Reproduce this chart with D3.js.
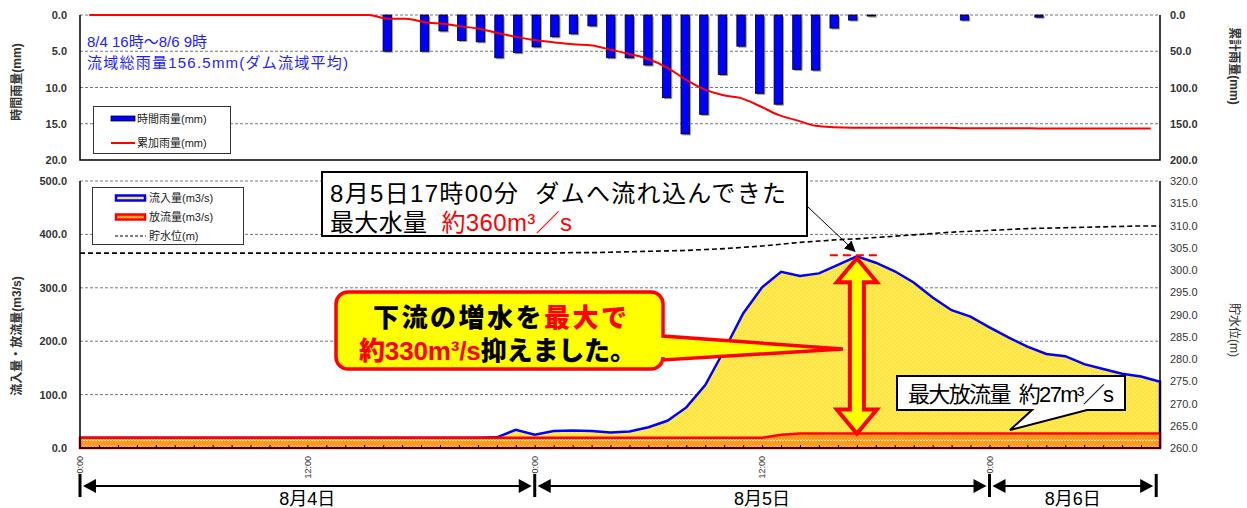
<!DOCTYPE html>
<html>
<head>
<meta charset="utf-8">
<script src="https://cdn.jsdelivr.net/npm/d3@7"></script>
<style>
    body { margin: 0; background: #fff; }
    svg { display: block; font-family: "Liberation Sans", "Noto Sans CJK JP", sans-serif; }
    text { white-space: pre; }
</style>
</head>
<body>
<script>

// hourly steps, 8/4 0:00 (index 0) ... 8/6 9:00 (index 57)
var hourIndex = d3.range(58)

var rainHourly = [
    0, 0, 0, 0, 0, 0, 0, 0, 0, 0, 0, 0, 0, 0, 0, 0,
    5.0, 0, 5.0, 2.2, 3.5, 3.7, 5.9, 5.2,
    4.4, 3.0, 2.6, 1.5, 5.9, 5.9, 6.9, 11.4, 16.4, 13.7, 8.2, 4.3, 10.8, 12.3, 7.5, 7.6, 1.8, 0.7, 0.15, 0, 0, 0, 0, 0.7,
    0, 0, 0, 0.3, 0, 0, 0, 0, 0, 0
]

var rainCumulative = [
    0, 0, 0, 0, 0, 0, 0, 0, 0, 0, 0, 0, 0, 0, 0, 0,
    5.0, 5.0, 10.0, 12.2, 15.7, 19.4, 25.3, 30.5,
    34.9, 37.9, 40.5, 42.0, 47.9, 53.8, 60.7, 72.1, 88.5, 102.2, 110.4, 114.7, 125.5, 137.8, 145.3, 152.9, 154.7, 155.4, 155.5, 155.5, 155.5, 155.5, 155.5, 156.2,
    156.2, 156.2, 156.2, 156.5, 156.5, 156.5, 156.5, 156.5, 156.5, 156.5
]

var inflow = [
    19, 19, 19, 19, 19, 19, 19, 19, 19, 19, 19, 19, 19, 19, 19, 19, 19, 19, 19, 19, 19, 19,
    20, 34,
    25, 32, 33, 32, 29, 31, 39, 51, 76, 118, 183, 252, 301, 330, 322, 327, 343, 359, 347, 331, 310, 282, 258, 246,
    226, 207, 190, 176, 172, 157, 148, 139, 134, 124
]

var outflow = [
    19, 19, 19, 19, 19, 19, 19, 19, 19, 19, 19, 19, 19, 19, 19, 19, 19, 19, 19, 19, 19, 19, 19, 19,
    19, 19, 19, 19, 19, 19, 19, 19, 19, 19, 19, 19, 19, 25, 27, 27, 27, 27, 27, 27, 27, 27, 27, 27,
    27, 27, 27, 27, 27, 27, 27, 27, 27, 27
]

var waterLevel = [
    303.8, 303.8, 303.8, 303.8, 303.8, 303.8, 303.8, 303.8, 303.8, 303.8, 303.8, 303.8,
    303.8, 303.8, 303.8, 303.8, 303.8, 303.8, 303.8, 303.8, 303.8, 303.8, 303.8, 303.8,
    303.8, 303.8, 303.9, 303.9, 304.0, 304.1, 304.2, 304.3, 304.4, 304.6, 304.8, 305.1, 305.4, 305.8, 306.2, 306.5, 306.8, 307.0, 307.3, 307.6, 307.9, 308.2, 308.5, 308.7,
    308.9, 309.1, 309.3, 309.4, 309.5, 309.6, 309.7, 309.8, 309.9, 309.9
]

var rainTicks = [0, 5, 10, 15, 20]
var cumTicks = [0, 50, 100, 150, 200]
var flowTicks = [0, 100, 200, 300, 400, 500]
var levelTicks = [260, 265, 270, 275, 280, 285, 290, 295, 300, 305, 310, 315, 320]
var timeTicks = [0, 12, 24, 36, 48]
var timeLabels = ['0:00', '12:00', '0:00', '12:00', '0:00']
var days = ['8月4日', '8月5日', '8月6日']
var dayBounds = [0, 24, 48, 56.8]

var chartAreaWidth = 1247
var chartAreaHeight = 508
var plotLeft = 80
var plotRight = 1160

var svg = d3.select('body')
                .append('svg')
                    .attr('width', chartAreaWidth)
                    .attr('height', chartAreaHeight)

var defs = svg.append('defs')

// yellow lattice fill for inflow
var pIn = defs.append('pattern')
                .attr('id', 'pInflow')
                .attr('width', 4).attr('height', 4)
                .attr('patternUnits', 'userSpaceOnUse')
pIn.append('rect').attr('width', 4).attr('height', 4).attr('fill', '#ffe542')
pIn.append('path').attr('d', 'M0,0 L1,0 L0,1 Z M2,2 L3,2 L2,3 Z').attr('fill', '#fffbe6')

// orange wavy fill for outflow
var pOut = defs.append('pattern')
                .attr('id', 'pOutflow')
                .attr('width', 6).attr('height', 6)
                .attr('patternUnits', 'userSpaceOnUse')
pOut.append('rect').attr('width', 6).attr('height', 6).attr('fill', '#ff9a1a')
pOut.append('path').attr('d', 'M0,3 L1.5,1.5 L3,3 L4.5,1.5 L6,3').attr('fill', 'none')
        .attr('stroke', '#ffe3a8').attr('stroke-width', 1)

defs.append('marker')
        .attr('id', 'arrowHead')
        .attr('viewBox', '0 0 10 10')
        .attr('refX', 9).attr('refY', 5)
        .attr('markerWidth', 11).attr('markerHeight', 11)
        .attr('markerUnits', 'userSpaceOnUse')
        .attr('orient', 'auto')
    .append('path')
        .attr('d', 'M0,0 L10,5 L0,10 Z')
        .attr('fill', '#000')

function styleAxisText(g, bold) {
    g.select('.domain').remove()
    g.selectAll('.tick line').remove()
    g.selectAll('text')
        .attr('font-family', '"Liberation Sans", sans-serif')
        .attr('font-size', 11)
        .attr('font-weight', bold ? 'bold' : 'normal')
        .attr('fill', '#333')
}

function drawTopChart() {

    var yTop = 15
    var yBottom = 160

    var xBand = d3.scaleBand()
                    .domain(hourIndex)
                    .range([plotLeft, plotRight])
                    .paddingInner(0.55)
                    .paddingOuter(0.275)

    var yRain = d3.scaleLinear().domain([0, 20]).range([yTop, yBottom])
    var yCum = d3.scaleLinear().domain([0, 200]).range([yTop, yBottom])

    var g = svg.append('g').classed('top-chart', true)

    g.selectAll('.grid')
        .data(rainTicks.slice(0, -1))
        .enter()
            .append('line')
                .attr('x1', plotLeft).attr('x2', plotRight)
                .attr('y1', d => yRain(d)).attr('y2', d => yRain(d))
                .attr('stroke', '#777')
                .attr('stroke-dasharray', '3,2')

    var bars = g.selectAll('.bar')
                .data(hourIndex.filter(i => rainHourly[i] > 0))
                .enter()
                    .append('g')

    bars.append('rect')
            .attr('x', i => xBand(i) + 1.5)
            .attr('y', yTop + 1.5)
            .attr('width', xBand.bandwidth())
            .attr('height', i => yRain(rainHourly[i]) - yTop)
            .attr('fill', '#9a9a9a')

    bars.append('rect')
            .attr('x', i => xBand(i))
            .attr('y', yTop)
            .attr('width', xBand.bandwidth())
            .attr('height', i => yRain(rainHourly[i]) - yTop)
            .attr('fill', '#0000ff')
            .attr('stroke', '#000')
            .attr('stroke-width', 0.8)

    var cumLine = d3.line()
                    .x(i => xBand(i) + xBand.bandwidth() / 2)
                    .y(i => yCum(rainCumulative[i]))
                    .curve(d3.curveMonotoneX)

    g.append('path')
        .attr('d', cumLine(hourIndex))
        .attr('fill', 'none')
        .attr('stroke', '#ff0000')
        .attr('stroke-width', 2)

    // frame
    g.append('path')
        .attr('d', 'M' + plotLeft + ',' + yTop + ' V' + yBottom + ' H' + plotRight + ' V' + yTop)
        .attr('fill', 'none')
        .attr('stroke', '#000')
        .attr('stroke-width', 1.5)

    g.append('g')
        .attr('transform', 'translate(' + plotLeft + ',0)')
        .call(d3.axisLeft(yRain).tickValues(rainTicks).tickFormat(d3.format('.1f')).tickSize(0).tickPadding(13))
        .call(s => styleAxisText(s, true))

    g.append('g')
        .attr('transform', 'translate(' + plotRight + ',0)')
        .call(d3.axisRight(yCum).tickValues(cumTicks).tickFormat(d3.format('.1f')).tickSize(0).tickPadding(10))
        .call(s => styleAxisText(s, true))

    g.append('text')
        .text('時間雨量(mm)')
        .attr('transform', 'translate(17,' + 82 + ') rotate(-90)')
        .attr('text-anchor', 'middle')
        .attr('dy', '0.35em')
        .attr('font-size', 12)
        .attr('font-weight', 'bold')
        .attr('fill', '#333')

    g.append('text')
        .text('累計雨量(mm)')
        .attr('transform', 'translate(1234,' + 66 + ') rotate(90)')
        .attr('text-anchor', 'middle')
        .attr('dy', '0.35em')
        .attr('font-size', 12)
        .attr('font-weight', 'bold')
        .attr('fill', '#333')

    g.append('text')
        .text('8/4 16時～8/6 9時')
        .attr('x', 87).attr('y', 47)
        .attr('font-size', 15)
        .attr('fill', '#2222ff')

    g.append('text')
        .text('流域総雨量156.5mm(ダム流域平均)')
        .attr('x', 87).attr('y', 68)
        .attr('font-size', 15)
        .attr('textLength', 261)
        .attr('fill', '#2222ff')

    // legend
    var lg = g.append('g')
    lg.append('rect')
        .attr('x', 93.5).attr('y', 106.5).attr('width', 137).attr('height', 47)
        .attr('fill', '#fff').attr('stroke', '#333')
    lg.append('rect')
        .attr('x', 111).attr('y', 116).attr('width', 24).attr('height', 5)
        .attr('fill', '#0000ff').attr('stroke', '#000').attr('stroke-width', 0.8)
    lg.append('line')
        .attr('x1', 111).attr('x2', 135).attr('y1', 143).attr('y2', 143)
        .attr('stroke', '#ff0000').attr('stroke-width', 2)
    lg.append('text').text('時間雨量(mm)')
        .attr('x', 137).attr('y', 119).attr('dy', '0.35em').attr('font-size', 11).attr('fill', '#222')
    lg.append('text').text('累加雨量(mm)')
        .attr('x', 137).attr('y', 143).attr('dy', '0.35em').attr('font-size', 11).attr('fill', '#222')
}

function drawBottomChart() {

    var yTop = 181
    var yBottom = 448

    var x = d3.scaleLinear().domain([0, 57]).range([plotLeft, plotRight])
    var yFlow = d3.scaleLinear().domain([0, 500]).range([yBottom, yTop])
    var yLevel = d3.scaleLinear().domain([260, 320]).range([yBottom, yTop])

    var g = svg.append('g').classed('bottom-chart', true)

    g.selectAll('.grid')
        .data(flowTicks.slice(1))
        .enter()
            .append('line')
                .attr('x1', plotLeft).attr('x2', plotRight)
                .attr('y1', d => yFlow(d)).attr('y2', d => yFlow(d))
                .attr('stroke', '#777')
                .attr('stroke-dasharray', '3,2')

    var inArea = d3.area()
                    .x(i => x(i))
                    .y0(yFlow(0))
                    .y1(i => yFlow(inflow[i]))

    g.append('path')
        .attr('d', inArea(hourIndex))
        .attr('fill', 'url(#pInflow)')

    var inLine = d3.line()
    var inPts = hourIndex.map(i => [x(i), yFlow(inflow[i])])
    inPts.push([x(57), yFlow(0)])
    g.append('path')
        .attr('d', inLine(inPts))
        .attr('fill', 'none')
        .attr('stroke', '#0000ff')
        .attr('stroke-width', 2.5)

    var outArea = d3.area()
                    .x(i => x(i))
                    .y0(yFlow(0))
                    .y1(i => yFlow(outflow[i]))

    g.append('path')
        .attr('d', outArea(hourIndex))
        .attr('fill', 'url(#pOutflow)')
        .attr('stroke', '#ff0000')
        .attr('stroke-width', 2.5)

    var levelLine = d3.line()
                    .x(i => x(i))
                    .y(i => yLevel(waterLevel[i]))
                    .curve(d3.curveMonotoneX)

    g.append('path')
        .attr('d', levelLine(hourIndex))
        .attr('fill', 'none')
        .attr('stroke', '#000')
        .attr('stroke-width', 1.6)
        .attr('stroke-dasharray', '5,3')

    // hour ticks inside bottom edge
    g.append('g')
        .attr('transform', 'translate(0,' + yBottom + ')')
        .call(d3.axisBottom(x).tickValues(hourIndex).tickSize(-3).tickFormat(''))
        .call(s => s.select('.domain').remove())
        .selectAll('line').attr('stroke', '#000')

    // frame
    g.append('path')
        .attr('d', 'M' + plotLeft + ',' + yTop + ' V' + yBottom + ' H' + plotRight + ' V' + yTop)
        .attr('fill', 'none')
        .attr('stroke', '#000')
        .attr('stroke-width', 1.5)

    g.append('g')
        .attr('transform', 'translate(' + plotLeft + ',0)')
        .call(d3.axisLeft(yFlow).tickValues(flowTicks).tickFormat(d3.format('.1f')).tickSize(0).tickPadding(13))
        .call(s => styleAxisText(s, true))

    g.append('g')
        .attr('transform', 'translate(' + plotRight + ',0)')
        .call(d3.axisRight(yLevel).tickValues(levelTicks).tickFormat(d3.format('.1f')).tickSize(0).tickPadding(10))
        .call(s => styleAxisText(s, false))

    g.selectAll('.time-label')
        .data(timeTicks)
        .enter()
            .append('text')
                .text((d, i) => timeLabels[i])
                .attr('transform', d => 'translate(' + x(d) + ',456) rotate(-90)')
                .attr('text-anchor', 'end')
                .attr('dy', '0.35em')
                .attr('font-size', 9)
                .attr('fill', '#333')

    g.append('text')
        .text('流入量・放流量(m3/s)')
        .attr('transform', 'translate(17,' + 336 + ') rotate(-90)')
        .attr('text-anchor', 'middle')
        .attr('dy', '0.35em')
        .attr('font-size', 12)
        .attr('font-weight', 'bold')
        .attr('fill', '#333')

    g.append('text')
        .text('貯水位(m)')
        .attr('transform', 'translate(1234,' + 330 + ') rotate(90)')
        .attr('text-anchor', 'middle')
        .attr('dy', '0.35em')
        .attr('font-size', 12)
        .attr('fill', '#333')

    // legend
    var lg = g.append('g')
    lg.append('rect')
        .attr('x', 92.5).attr('y', 187.5).attr('width', 151).attr('height', 57)
        .attr('fill', '#fff').attr('stroke', '#333')
    lg.append('rect')
        .attr('x', 116).attr('y', 195.5).attr('width', 29).attr('height', 5)
        .attr('fill', 'url(#pInflow)').attr('stroke', '#0000ff').attr('stroke-width', 2.5)
    lg.append('rect')
        .attr('x', 116).attr('y', 214.5).attr('width', 29).attr('height', 5)
        .attr('fill', 'url(#pOutflow)').attr('stroke', '#ff0000').attr('stroke-width', 2.5)
    lg.append('line')
        .attr('x1', 115).attr('x2', 146).attr('y1', 236).attr('y2', 236)
        .attr('stroke', '#000').attr('stroke-width', 1.2).attr('stroke-dasharray', '3,2')
    var legendTexts = ['流入量(m3/s)', '放流量(m3/s)', '貯水位(m)']
    var legendY = [198, 217, 236]
    lg.selectAll('.lt')
        .data(legendTexts)
        .enter()
            .append('text')
                .text(d => d)
                .attr('x', 149)
                .attr('y', (d, i) => legendY[i])
                .attr('dy', '0.35em')
                .attr('font-size', 11)
                .attr('fill', '#222')

    drawAnnotations(g, x, yFlow)
}

function drawAnnotations(g, x, yFlow) {

    var peakIdx = d3.maxIndex(inflow)
    var peakX = x(peakIdx)
    var peakY = yFlow(inflow[peakIdx])
    var lowY = yFlow(d3.max(outflow))

    // red dashes at the peak
    g.append('line')
        .attr('x1', peakX - 27).attr('x2', peakX + 24)
        .attr('y1', peakY - 1).attr('y2', peakY - 1)
        .attr('stroke', '#ff0000')
        .attr('stroke-width', 2)
        .attr('stroke-dasharray', '8,5')

    // callout: max inflow
    g.append('rect')
        .attr('x', 322).attr('y', 172).attr('width', 485).attr('height', 64)
        .attr('fill', '#fff').attr('stroke', '#000').attr('stroke-width', 2)
    g.append('text')
        .text('8月5日17時00分  ダムへ流れ込んできた')
        .attr('x', 330).attr('y', 202)
        .attr('font-size', 24)
        .attr('textLength', 456)
        .attr('fill', '#000')
    var t2 = g.append('text')
                .attr('x', 330).attr('y', 231)
                .attr('font-size', 24)
                .attr('textLength', 242)
    t2.append('tspan').text('最大水量  ').attr('fill', '#000')
    t2.append('tspan').text('約360m³／s').attr('fill', '#ff0000')

    g.append('line')
        .attr('x1', 808).attr('y1', 207)
        .attr('x2', peakX - 2).attr('y2', peakY - 5)
        .attr('stroke', '#000')
        .attr('stroke-width', 1)
        .attr('marker-end', 'url(#arrowHead)')

    // double arrow between peak inflow and outflow
    var sh = 7, hh = 20, hl = 24
    var cx = peakX
    var a = peakY + 2, b = lowY
    var arrowPts = [
        [cx, a], [cx + hh, a + hl], [cx + sh, a + hl], [cx + sh, b - hl], [cx + hh, b - hl],
        [cx, b], [cx - hh, b - hl], [cx - sh, b - hl], [cx - sh, a + hl], [cx - hh, a + hl]
    ]
    g.append('path')
        .attr('d', 'M' + arrowPts.join('L') + 'Z')
        .attr('fill', '#ffff00')
        .attr('stroke', '#ff0000')
        .attr('stroke-width', 4)
        .attr('stroke-linejoin', 'miter')

    // yellow callout
    var bx0 = 336, bx1 = 663, by0 = 292, by1 = 369, r = 12
    var tipX = cx - 14, tipY = 349
    var d = 'M' + (bx0 + r) + ',' + by0 +
            ' H' + (bx1 - r) + ' A' + r + ',' + r + ' 0 0 1 ' + bx1 + ',' + (by0 + r) +
            ' V336 L' + tipX + ',' + tipY + ' L' + bx1 + ',360' +
            ' V' + (by1 - r) + ' A' + r + ',' + r + ' 0 0 1 ' + (bx1 - r) + ',' + by1 +
            ' H' + (bx0 + r) + ' A' + r + ',' + r + ' 0 0 1 ' + bx0 + ',' + (by1 - r) +
            ' V' + (by0 + r) + ' A' + r + ',' + r + ' 0 0 1 ' + (bx0 + r) + ',' + by0 + ' Z'
    g.append('path')
        .attr('d', d)
        .attr('fill', '#ffff00')
        .attr('stroke', '#ff0000')
        .attr('stroke-width', 3.5)

    var c1 = g.append('text')
                .attr('x', 373).attr('y', 327)
                .attr('font-size', 26)
                .attr('font-weight', 900)
                .attr('textLength', 254)
    c1.append('tspan').text('下流の増水を').attr('fill', '#000')
    c1.append('tspan').text('最大で').attr('fill', '#ff0000')

    var c2 = g.append('text')
                .attr('x', 359).attr('y', 360)
                .attr('font-size', 26)
                .attr('font-weight', 900)
                .attr('textLength', 277)
    c2.append('tspan').text('約330m³/s').attr('fill', '#ff0000')
    c2.append('tspan').text('抑えました。').attr('fill', '#000')

    // callout: max outflow
    g.append('path')
        .attr('d', 'M897,376 H1125 V410 H1087 L1010,430 L1032,410 H897 Z')
        .attr('fill', '#fff')
        .attr('stroke', '#000')
        .attr('stroke-width', 2)
    g.append('text')
        .text('最大放流量  約27m³／s')
        .attr('x', 908).attr('y', 402)
        .attr('font-size', 22)
        .attr('textLength', 206)
        .attr('fill', '#000')
}

function drawDayRanges() {

    var x = d3.scaleLinear().domain([0, 57]).range([plotLeft, plotRight])
    var yLine = 486
    var g = svg.append('g').classed('day-ranges', true)

    g.selectAll('.bound')
        .data(dayBounds)
        .enter()
            .append('line')
                .attr('x1', d => x(d)).attr('x2', d => x(d))
                .attr('y1', 474).attr('y2', 497)
                .attr('stroke', '#000')
                .attr('stroke-width', 3)

    days.forEach(function(day, i) {
        var xa = x(dayBounds[i]) + 3
        var xb = x(dayBounds[i + 1]) - 3
        g.append('line')
            .attr('x1', xa + 10).attr('x2', xb - 10)
            .attr('y1', yLine).attr('y2', yLine)
            .attr('stroke', '#000')
            .attr('stroke-width', 2)
        g.append('path')
            .attr('d', 'M' + xa + ',' + yLine + ' L' + (xa + 13) + ',' + (yLine - 7) + ' L' + (xa + 13) + ',' + (yLine + 7) + ' Z')
            .attr('fill', '#000')
        g.append('path')
            .attr('d', 'M' + xb + ',' + yLine + ' L' + (xb - 13) + ',' + (yLine - 7) + ' L' + (xb - 13) + ',' + (yLine + 7) + ' Z')
            .attr('fill', '#000')
        g.append('text')
            .text(day)
            .attr('x', (x(dayBounds[i]) + x(dayBounds[i + 1])) / 2)
            .attr('y', 505)
            .attr('text-anchor', 'middle')
            .attr('font-size', 18)
            .attr('fill', '#000')
    })
}

drawTopChart()
drawBottomChart()
drawDayRanges()

</script>
</body>
</html>
